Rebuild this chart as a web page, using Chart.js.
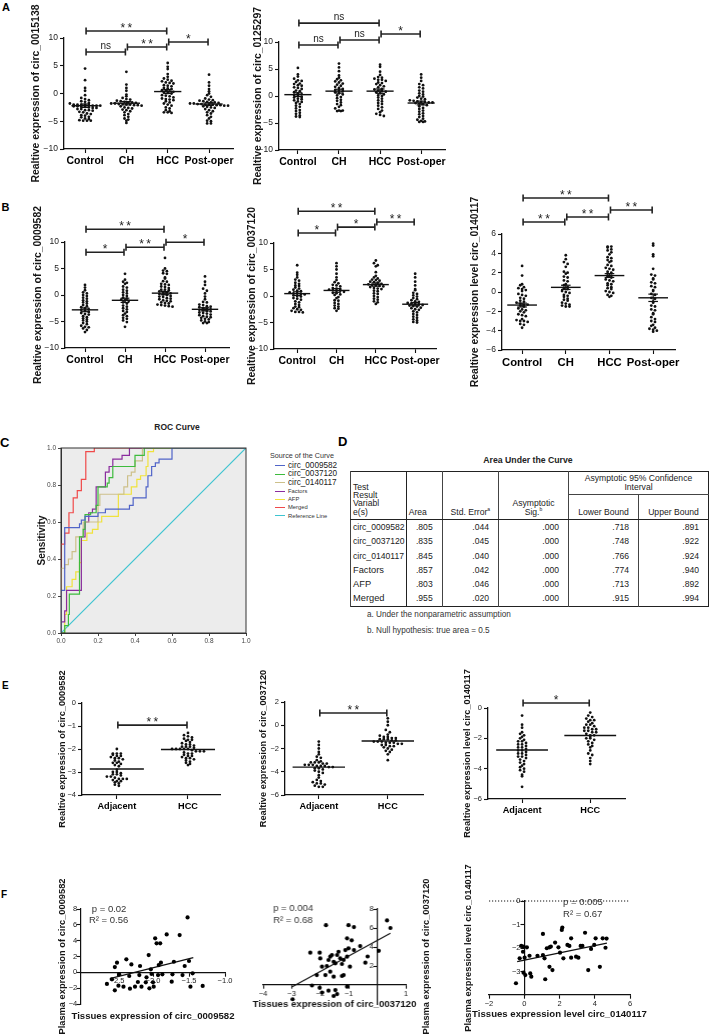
<!DOCTYPE html>
<html lang="en">
<head>
<meta charset="utf-8">
<title>circRNA expression and ROC</title>
<script src="https://cdn.jsdelivr.net/npm/chart.js@4.4.1/dist/chart.umd.min.js"></script>
<style>
    body { margin: 0; background: #fff; }
    #page { position: relative; width: 709px; height: 1034px; overflow: hidden; font-family: "Liberation Sans", Arial, sans-serif; color: #111; }
    #page canvas { position: absolute; }
    .tag { position: absolute; font-weight: bold; line-height: 1; color: #000; }
    .txt { position: absolute; line-height: 1; white-space: nowrap; }
    #legend { position: absolute; left: 270px; top: 451px; color: #333; white-space: nowrap; }
    #legend .ltitle { font-size: 7.2px; line-height: 9px; height: 11px; }
    #legend .row { font-size: 5.8px; line-height: 8.2px; padding-left: 5px; }
    #legend .row.big { font-size: 8.2px; line-height: 8.3px; color: #222; }
    #legend .row i { display: inline-block; width: 10px; height: 0; border-top: 1.2px solid; vertical-align: middle; margin-right: 3px; }
    #auc { position: absolute; left: 350px; top: 471px; width: 358px; table-layout: fixed; border-collapse: collapse; border: 1.6px solid #222; font-size: 8.6px; color: #222; }
    #auc th { font-weight: normal; border-left: 1px solid #444; vertical-align: bottom; text-align: center; line-height: 8.3px; padding: 0 2px 3px 2px; }
    #auc th.tl, #auc th.al { text-align: left; }
    #auc th.tl { border-right: 1.6px solid #222; }
    #auc .h1 th { height: 21px; border-bottom: 1.6px solid #222; }
    #auc .h1 th.mid { vertical-align: middle; padding-bottom: 1px; border-bottom: 1px solid #444; }
    #auc .h2 th { height: 21px; border-bottom: 1.6px solid #222; }
    #auc td { border-left: 1px solid #444; text-align: right; padding: 0 9px 0 2px; height: 14.3px; line-height: 14.3px; }
    #auc td.name { text-align: left; padding-left: 2px; border-right: 1.6px solid #222; }
    #auc td.name.big { font-size: 9.3px; }
    #auc sup { font-size: 5px; line-height: 0; }
</style>
</head>
<body>
<div id="page">
    <div class="tag" style="left:2px;top:1.6px;font-size:11px">A</div>
    <div class="tag" style="left:1.5px;top:201.6px;font-size:11px">B</div>
    <div class="tag" style="left:0px;top:435.6px;font-size:13px">C</div>
    <div class="tag" style="left:338px;top:434.6px;font-size:13px">D</div>
    <div class="tag" style="left:2px;top:681px;font-size:10px">E</div>
    <div class="tag" style="left:1px;top:890px;font-size:10px">F</div>

    <div class="txt" style="left:127px;width:100px;text-align:center;top:422.5px;font-size:8.5px;font-weight:bold;color:#222">ROC Curve</div>
    <div id="legend"><div class="ltitle">Source of the Curve</div></div>

    <div class="txt" style="left:428px;width:200px;text-align:center;top:456.4px;font-size:8.7px;font-weight:bold;color:#222">Area Under the Curve</div>
    <table id="auc">
        <colgroup>
            <col style="width:55.7px"><col style="width:36px"><col style="width:56.3px"><col style="width:70px"><col style="width:70px"><col style="width:70px">
        </colgroup>
        <thead>
            <tr class="h1">
                <th rowspan="2" class="tl">Test<br>Result<br>Variabl<br>e(s)</th>
                <th rowspan="2" class="al">Area</th>
                <th rowspan="2">Std. Error<sup>a</sup></th>
                <th rowspan="2">Asymptotic<br>Sig.<sup>b</sup></th>
                <th colspan="2" class="mid">Asymptotic 95% Confidence<br>Interval</th>
            </tr>
            <tr class="h2"><th>Lower Bound</th><th>Upper Bound</th></tr>
        </thead>
        <tbody></tbody>
    </table>
    <div class="txt" style="left:367px;top:610.6px;font-size:8.2px;color:#333">a. Under the nonparametric assumption</div>
    <div class="txt" style="left:367px;top:626.6px;font-size:8.2px;color:#333">b. Null hypothesis: true area = 0.5</div>
</div>

<script>
// ---- data ----
var groupNames = ['Control', 'CH', 'HCC', 'Post-oper']
var tissueNames = ['Adjacent', 'HCC']

// A: circ_0015138
var a1Control = [4.5, 2.4, 1.0, 0.5, -0.3, -0.8, -1.0, -1.2, -1.4, -1.5, -1.7, -1.8, -2.0, -2.0, -2.0, -2.0, -2.1, -2.2, -2.2, -2.2, -2.3, -2.3, -2.4, -2.4, -2.5, -2.6, -2.6, -2.8, -2.8, -3.0, -3.0, -3.1, -3.3, -3.4, -3.6, -3.7, -3.9, -4.0, -4.2, -4.3, -4.5, -4.6, -4.8, -4.9, -4.9, -4.9]
var a1CH = [3.9, 1.6, 1.0, 0.5, -0.2, -0.5, -0.8, -1.0, -1.1, -1.3, -1.4, -1.5, -1.6, -1.6, -1.7, -1.8, -1.8, -1.9, -1.9, -2.0, -2.0, -2.1, -2.1, -2.2, -2.3, -2.5, -2.6, -2.7, -2.9, -3.0, -3.2, -3.4, -3.7, -3.9, -4.2, -4.5, -4.7, -4.9, -5.3]
var a1HCC = [5.5, 4.8, 4.4, 3.5, 3.0, 2.7, 2.5, 2.3, 2.2, 2.0, 1.9, 1.8, 1.5, 1.4, 1.3, 1.0, 0.9, 0.8, 0.6, 0.5, 0.4, 0.3, 0.2, 0.1, 0.0, -0.3, -0.4, -0.5, -0.7, -0.9, -1.0, -1.1, -1.2, -1.4, -1.6, -1.8, -2.0, -2.2, -2.5, -2.7, -3.0, -3.2, -3.4, -3.4, -3.5]
var a1Post = [3.4, 2.0, 1.4, 0.8, 0.4, 0.0, -0.3, -0.6, -0.9, -1.1, -1.2, -1.3, -1.4, -1.5, -1.6, -1.6, -1.7, -1.8, -1.8, -1.9, -1.9, -2.0, -2.0, -2.0, -2.1, -2.1, -2.2, -2.2, -2.3, -2.4, -2.5, -2.6, -2.8, -3.0, -3.2, -3.4, -3.6, -3.9, -4.2, -4.5, -4.9, -5.0, -5.4, -5.4]
var a1Means = [-2.2, -1.75, 0.35, -1.9]
var a1Sems = [0.3, 0.3, 0.35, 0.25]

// A: circ_0125297
var a2Control = [5.2, 4.0, 3.6, 3.2, 2.9, 2.8, 2.6, 2.3, 2.2, 2.0, 1.9, 1.6, 1.5, 1.3, 1.0, 0.9, 0.7, 0.5, 0.3, 0.2, 0.0, -0.2, -0.3, -0.5, -0.6, -0.8, -1.0, -1.1, -1.3, -1.5, -1.8, -2.0, -2.3, -2.6, -2.8, -3.1, -3.3, -3.6, -3.8, -3.9]
var a2CH = [6.0, 5.3, 4.6, 3.8, 3.4, 3.1, 2.9, 2.7, 2.5, 2.3, 2.1, 1.9, 1.7, 1.5, 1.3, 1.1, 1.0, 0.9, 0.7, 0.5, 0.3, 0.1, -0.2, -0.4, -0.7, -0.9, -1.2, -1.5, -1.7, -2.0, -2.3, -2.7, -2.7, -2.8, -2.8]
var a2HCC = [5.8, 5.4, 4.5, 3.9, 3.5, 3.4, 3.2, 3.0, 3.0, 2.8, 2.5, 2.4, 2.2, 2.0, 1.8, 1.6, 1.3, 1.2, 1.0, 0.9, 0.8, 0.7, 0.5, 0.3, 0.1, 0.0, -0.3, -0.5, -0.8, -1.0, -1.3, -1.5, -1.8, -2.1, -2.4, -2.7, -3.0, -3.3, -3.5, -3.7]
var a2Post = [4.0, 3.4, 2.8, 2.2, 2.0, 1.6, 1.4, 1.0, 0.8, 0.5, 0.3, 0.0, -0.1, -0.3, -0.5, -0.6, -0.8, -0.9, -1.0, -1.1, -1.1, -1.2, -1.2, -1.3, -1.4, -1.5, -1.7, -1.9, -2.2, -2.4, -2.7, -2.9, -3.2, -3.4, -3.7, -3.9, -4.2, -4.4, -4.6, -4.7, -4.8, -4.8]
var a2Means = [0.25, 0.9, 0.9, -1.3]
var a2Sems = [0.35, 0.35, 0.4, 0.35]

// B: circ_0009582
var b1Control = [1.9, 1.4, 0.9, 0.5, 0.3, 0.0, -0.2, -0.5, -0.7, -1.0, -1.2, -1.4, -1.6, -1.9, -2.1, -2.3, -2.5, -2.7, -2.8, -3.0, -3.2, -3.4, -3.6, -3.7, -4.0, -4.2, -4.4, -4.6, -4.8, -5.0, -5.3, -5.5, -5.8, -6.0, -6.1, -6.3, -6.6, -7.0]
var b1CH = [4.0, 2.9, 2.5, 2.3, 2.1, 1.6, 1.4, 1.0, 0.8, 0.5, 0.3, 0.0, -0.2, -0.5, -0.7, -0.9, -1.0, -1.1, -1.4, -1.6, -2.0, -2.2, -2.5, -2.7, -3.0, -3.2, -3.5, -3.8, -4.0, -4.3, -4.5, -4.8, -5.1, -6.0]
var b1HCC = [7.0, 5.0, 4.6, 4.5, 4.1, 4.0, 3.3, 3.1, 2.6, 2.5, 2.1, 2.0, 1.9, 1.6, 1.5, 1.3, 1.0, 1.0, 0.9, 0.7, 0.6, 0.5, 0.3, 0.2, 0.1, 0.0, -0.2, -0.3, -0.4, -0.6, -0.7, -0.8, -1.0, -1.1, -1.2, -1.4, -1.5, -1.6, -1.8, -1.9, -2.0, -2.1, -2.2]
var b1Post = [3.5, 2.5, 1.9, 1.2, 0.8, 0.3, -0.3, -0.8, -1.3, -1.4, -1.8, -1.9, -2.1, -2.2, -2.3, -2.5, -2.6, -2.7, -2.8, -2.9, -3.0, -3.1, -3.3, -3.4, -3.5, -3.7, -3.8, -4.0, -4.1, -4.2, -4.3, -4.5, -4.6, -4.8, -5.0, -5.1, -5.3, -5.3]
var b1Means = [-2.8, -1.0, 0.35, -2.7]
var b1Sems = [0.35, 0.4, 0.3, 0.3]

// B: circ_0037120
var b2Control = [5.8, 4.4, 4.0, 3.5, 3.1, 2.9, 2.5, 2.3, 2.0, 1.9, 1.6, 1.4, 1.2, 1.0, 0.9, 0.7, 0.5, 0.5, 0.4, 0.3, 0.1, 0.0, -0.1, -0.4, -0.5, -0.7, -1.0, -1.2, -1.5, -1.7, -2.0, -2.1, -2.3, -2.5, -2.6, -2.8, -3.0, -3.0, -3.1]
var b2CH = [6.2, 5.6, 5.0, 4.2, 3.5, 3.0, 2.6, 2.4, 2.1, 2.0, 1.8, 1.5, 1.4, 1.3, 1.2, 1.1, 1.0, 1.0, 0.8, 0.6, 0.5, 0.3, 0.2, -0.2, -0.4, -0.8, -0.9, -1.3, -1.5, -1.8, -2.0, -2.3, -2.4, -2.8]
var b2HCC = [6.7, 6.2, 5.8, 5.6, 4.5, 3.8, 3.5, 3.3, 3.1, 3.0, 2.9, 2.7, 2.6, 2.5, 2.3, 2.2, 2.1, 2.0, 1.9, 1.8, 1.7, 1.5, 1.4, 1.3, 1.0, 0.9, 0.5, 0.4, 0.0, -0.2, -0.5, -0.7, -1.0, -1.2, -1.5]
var b2Post = [4.2, 3.5, 2.7, 2.0, 1.3, 1.1, 0.6, 0.4, 0.1, -0.1, -0.4, -0.6, -0.8, -1.0, -1.1, -1.3, -1.4, -1.5, -1.6, -1.7, -1.8, -1.9, -2.0, -2.2, -2.3, -2.5, -2.6, -2.9, -3.1, -3.4, -3.6, -3.9, -4.1, -4.4, -4.6, -4.9, -5.0]
var b2Means = [0.45, 1.05, 2.15, -1.55]
var b2Sems = [0.35, 0.35, 0.3, 0.3]

// B: circ_0140117
var b3Control = [2.7, 1.7, 0.8, 0.7, 0.5, 0.4, 0.3, 0.2, 0.1, -0.2, -0.3, -0.4, -0.6, -0.7, -0.9, -1.0, -1.1, -1.2, -1.3, -1.3, -1.4, -1.5, -1.7, -1.8, -1.9, -2.0, -2.1, -2.3, -2.4, -2.5, -2.8, -2.9, -3.0, -3.0, -3.1, -3.3, -3.4, -3.7]
var b3CH = [3.8, 3.4, 3.1, 2.9, 2.6, 2.1, 2.0, 1.9, 1.6, 1.5, 1.2, 1.1, 0.8, 0.7, 0.5, 0.4, 0.3, 0.1, 0.0, -0.1, -0.3, -0.4, -0.5, -0.7, -0.8, -0.9, -1.1, -1.2, -1.3, -1.4, -1.5, -1.5]
var b3HCC = [4.7, 4.7, 4.6, 4.4, 4.3, 4.1, 3.9, 3.6, 3.5, 3.3, 3.2, 3.1, 2.8, 2.7, 2.5, 2.4, 2.3, 2.1, 2.0, 1.9, 1.7, 1.6, 1.5, 1.3, 1.2, 1.1, 0.9, 0.8, 0.7, 0.5, 0.4, 0.3, 0.1, 0.0, -0.1, -0.3, -0.4, -0.5]
var b3Post = [5.0, 4.8, 3.9, 3.7, 2.4, 1.8, 1.7, 1.4, 1.3, 1.0, 0.9, 0.6, 0.5, 0.2, 0.1, -0.2, -0.3, -0.6, -0.7, -1.0, -1.1, -1.4, -1.5, -1.8, -1.9, -2.2, -2.3, -2.6, -2.8, -3.0, -3.1, -3.4, -3.5, -3.7, -3.8, -3.9, -4.0, -4.1]
var b3Means = [-1.35, 0.48, 1.7, -0.6]
var b3Sems = [0.2, 0.22, 0.2, 0.38]

// E: tissue levels
var e1Adjacent = [-2.0, -2.2, -2.2, -2.2, -2.25, -2.3, -2.3, -2.35, -2.4, -2.4, -2.45, -2.5, -2.55, -2.6, -2.6, -2.65, -2.7, -2.75, -2.9, -3.0, -3.0, -3.05, -3.1, -3.1, -3.15, -3.2, -3.2, -3.25, -3.3, -3.3, -3.3, -3.35, -3.4, -3.4, -3.45, -3.5, -3.55, -3.6]
var e1HCC = [-1.3, -1.4, -1.45, -1.5, -1.55, -1.6, -1.6, -1.65, -1.7, -1.75, -1.8, -1.8, -1.85, -1.9, -1.9, -1.9, -1.95, -2.0, -2.0, -2.0, -2.0, -2.0, -2.05, -2.1, -2.1, -2.1, -2.15, -2.2, -2.2, -2.25, -2.3, -2.3, -2.35, -2.4, -2.4, -2.45, -2.5, -2.55, -2.6, -2.65, -2.7]
var e1Means = [-2.87, -2.02]
var e2Adjacent = [-1.4, -1.7, -2.0, -2.3, -2.5, -2.7, -2.8, -3.0, -3.1, -3.2, -3.2, -3.2, -3.3, -3.3, -3.4, -3.4, -3.4, -3.5, -3.5, -3.5, -3.6, -3.6, -3.7, -3.7, -3.8, -3.9, -4.0, -4.1, -4.3, -4.5, -4.7, -4.8, -4.9, -5.0, -5.0, -5.1, -5.2, -5.3, -5.3]
var e2HCC = [0.6, 0.3, 0.0, -0.4, -0.6, -0.8, -0.9, -1.0, -1.0, -1.1, -1.1, -1.2, -1.2, -1.2, -1.3, -1.3, -1.4, -1.4, -1.4, -1.5, -1.5, -1.5, -1.6, -1.6, -1.7, -1.7, -1.8, -1.8, -1.9, -2.0, -2.1, -2.2, -2.3, -2.5, -3.0]
var e2Means = [-3.6, -1.35]
var e3Adjacent = [-0.5, -1.1, -1.3, -1.6, -1.7, -1.8, -1.9, -2.0, -2.1, -2.2, -2.2, -2.3, -2.4, -2.4, -2.5, -2.6, -2.6, -2.7, -2.8, -2.8, -2.9, -3.0, -3.0, -3.1, -3.2, -3.2, -3.3, -3.4, -3.5, -3.6, -3.7, -3.8, -3.9, -4.0, -4.1, -4.2, -4.4, -4.5, -5.2]
var e3HCC = [-0.3, -0.5, -0.6, -0.7, -0.8, -0.8, -0.9, -1.0, -1.1, -1.1, -1.2, -1.3, -1.3, -1.4, -1.4, -1.5, -1.5, -1.6, -1.6, -1.7, -1.8, -1.8, -1.9, -2.0, -2.0, -2.1, -2.2, -2.3, -2.4, -2.5, -2.6, -2.8, -3.0, -3.1, -3.3, -3.5, -3.7]
var e3Means = [-2.77, -1.81]

// C: ROC curves, [1 - specificity, sensitivity]
var rocNames = ['circ_0009582', 'circ_0037120', 'circ_0140117', 'Factors', 'AFP', 'Merged', 'Reference Line']
var roc0009582 = [[0, 0], [0, 0.23], [0.02, 0.57], [0.1, 0.59], [0.11, 0.61], [0.13, 0.63], [0.2, 0.65], [0.24, 0.67], [0.37, 0.69], [0.39, 0.73], [0.46, 0.79], [0.47, 0.85], [0.49, 0.9], [0.51, 0.92], [0.53, 0.94], [0.6, 1], [1, 1]]
var roc0037120 = [[0, 0], [0.02, 0.04], [0.04, 0.1], [0.045, 0.21], [0.1, 0.52], [0.12, 0.56], [0.13, 0.64], [0.16, 0.65], [0.19, 0.69], [0.2, 0.79], [0.25, 0.81], [0.26, 0.84], [0.28, 0.9], [0.4, 0.96], [0.45, 1], [1, 1]]
var roc0140117 = [[0, 0], [0, 0.35], [0.02, 0.37], [0.04, 0.4], [0.06, 0.44], [0.08, 0.52], [0.12, 0.6], [0.2, 0.69], [0.21, 0.75], [0.34, 0.79], [0.36, 0.85], [0.38, 0.87], [0.4, 0.93], [0.44, 1], [1, 1]]
var rocFactors = [[0, 0], [0, 0.06], [0.02, 0.12], [0.03, 0.23], [0.11, 0.52], [0.13, 0.6], [0.15, 0.65], [0.17, 0.67], [0.19, 0.79], [0.24, 0.87], [0.26, 0.9], [0.28, 0.94], [0.33, 0.96], [0.37, 1], [1, 1]]
var rocAfp = [[0, 0], [0.02, 0.1], [0.03, 0.25], [0.06, 0.29], [0.08, 0.33], [0.1, 0.38], [0.11, 0.5], [0.14, 0.54], [0.17, 0.56], [0.2, 0.6], [0.22, 0.63], [0.31, 0.75], [0.38, 0.79], [0.41, 0.83], [0.43, 0.85], [0.46, 0.9], [0.47, 0.98], [0.5, 1], [1, 1]]
var rocMerged = [[0, 0], [0, 0.48], [0.02, 0.54], [0.043, 0.65], [0.066, 0.73], [0.088, 0.77], [0.11, 0.83], [0.134, 0.98], [0.18, 1], [1, 1]]
var rocReference = [[0, 0], [1, 1]]

// D: area under the curve
var aucNames = ['circ_0009582', 'circ_0037120', 'circ_0140117', 'Factors', 'AFP', 'Merged']
var aucArea = ['.805', '.835', '.845', '.857', '.803', '.955']
var aucStdError = ['.044', '.045', '.040', '.042', '.046', '.020']
var aucSig = ['.000', '.000', '.000', '.000', '.000', '.000']
var aucLower = ['.718', '.748', '.766', '.774', '.713', '.915']
var aucUpper = ['.891', '.922', '.924', '.940', '.892', '.994']

// F: tissue vs plasma
var f1Tissue = [-2.64, -2.57, -2.53, -2.53, -2.50, -2.48, -2.47, -2.41, -2.37, -2.32, -2.30, -2.33, -2.25, -2.21, -2.19, -2.18, -2.16, -2.10, -2.09, -2.06, -2.05, -2.03, -2.02, -2.00, -1.99, -1.97, -1.95, -1.93, -1.92, -1.90, -1.89, -1.87, -1.81, -1.74, -1.73, -1.71, -1.63, -1.59, -1.56, -1.52, -1.50, -1.48, -1.45, -1.31]
var f1Plasma = [-1.47, -0.88, -2.27, 0.67, 1.22, -1.68, -0.25, -1.81, 1.64, -2.06, 1.0, -0.46, -1.81, -1.22, -0.34, 0.8, -1.81, -1.26, -0.63, 2.18, -2.02, 0.38, -0.21, -1.26, -1.81, 4.29, 3.66, -0.34, 0.92, 3.66, 1.22, -0.25, 4.79, -1.18, -0.25, 1.34, 4.71, -0.34, 0.8, 6.93, 1.43, -1.81, -0.13, -1.72]
var f1FitX = [-2.6, -1.44]
var f1FitY = [-0.8, 1.86]
var f1Stats = ['p = 0.02', 'R\u00b2 = 0.56']

var f2Tissue = [-2.97, -2.35, -2.02, -1.80, -2.00, -2.12, -1.82, -2.29, -2.02, -1.94, -1.94, -1.77, -1.71, -1.65, -1.59, -1.53, -1.47, -1.41, -1.36, -1.30, -1.24, -1.18, -1.12, -1.06, -1.01, -1.65, -1.53, -1.24, -1.18, -1.06, -1.47, -1.41, -1.53, -1.71, -1.06, -1.01, -0.90, -0.82, -0.82, -0.96, -0.42, -0.34, 0.05, 0.34, 0.46, -0.60]
var f2Plasma = [-1.50, 3.40, 3.40, 6.30, 2.80, 1.05, 1.05, -0.05, -0.30, -0.80, 1.93, 2.00, 2.63, 2.98, 3.16, 2.45, 2.28, 3.16, 3.50, 2.81, 2.21, 2.63, 3.68, 2.98, 3.86, 1.40, 0.88, 0.95, 1.05, -0.18, -0.53, -0.95, -1.16, -0.60, 4.91, 6.30, 4.70, 6.10, 3.68, 1.93, 2.35, 3.00, 3.60, 6.80, 6.00, 4.10]
var f2FitX = [-2.98, 0.46]
var f2FitY = [-0.18, 5.44]
var f2Stats = ['p = 0.004', 'R\u00b2 = 0.68']

var f3Tissue = [-0.47, -0.26, -0.17, -0.04, 0.15, -0.07, 0.02, -0.04, 0.06, 0.30, 0.34, 0.40, 0.75, 1.06, 1.06, 1.15, 1.19, 1.28, 1.43, 1.51, 1.43, 1.60, 1.75, 1.94, 2.03, 2.13, 2.16, 2.22, 2.45, 2.56, 2.66, 2.66, 2.94, 3.07, 3.20, 3.30, 3.45, 3.63, 3.79, 3.97, 4.05, 4.29, 4.45, 4.61, 4.67]
var f3Plasma = [-3.50, -2.44, -1.91, -1.94, -1.97, -2.16, -2.41, -3.05, -3.15, -2.33, -3.08, -3.22, -2.33, -1.40, -2.30, -2.44, -3.33, -2.01, -1.97, -1.94, -2.80, -2.94, -1.77, -1.97, -2.20, -1.23, -1.13, -2.44, -1.87, -1.91, -2.41, -1.59, -2.37, -2.41, -1.91, -1.91, -1.35, -2.94, -2.04, -1.87, -1.59, -2.80, -1.59, -1.99, -1.60]
var f3FitX = [-0.4, 4.69]
var f3FitY = [-2.58, -1.79]
var f3Stats = ['p = 0.005', 'R\u00b2 = 0.67']

// ---- drawing ----
var FONT = '"Liberation Sans", Arial, sans-serif'
Chart.defaults.font.family = FONT
Chart.defaults.color = '#111'

var page = document.getElementById('page')

function makeCanvas(x, y, w, h) {
    var cv = document.createElement('canvas')
    cv.width = w
    cv.height = h
    cv.style.left = x + 'px'
    cv.style.top = y + 'px'
    cv.style.width = w + 'px'
    cv.style.height = h + 'px'
    page.appendChild(cv)
    return cv
}

function minusLabel(v, digits) {
    var s = digits ? Math.abs(v).toFixed(digits) : String(Math.abs(v))
    return v < 0 ? '\u2212' + s : s
}

function seg(ctx, x1, y1, x2, y2) {
    ctx.beginPath()
    ctx.moveTo(x1, y1)
    ctx.lineTo(x2, y2)
    ctx.stroke()
}

function axisGrid(len) {
    return { drawOnChartArea: false, color: '#111', tickLength: len, tickWidth: 1.1 }
}

// means, error bars, significance brackets, notes and axis titles
function makeDecor(cfg) {
    return {
        id: 'decor',
        beforeDraw: function (chart) {
            if (!cfg.background) return
            var a = chart.chartArea
            chart.ctx.save()
            chart.ctx.fillStyle = cfg.background
            chart.ctx.fillRect(a.left, a.top, a.right - a.left, a.bottom - a.top)
            chart.ctx.restore()
        },
        afterDatasetsDraw: function (chart) {
            var ctx = chart.ctx
            var a = chart.chartArea
            var xs = chart.scales.x
            var ys = chart.scales.y
            ctx.save()
            ctx.strokeStyle = '#111'
            ctx.fillStyle = '#111'

            if (cfg.frame) {
                ctx.lineWidth = 1
                ctx.strokeStyle = '#333'
                ctx.strokeRect(a.left, a.top, a.right - a.left, a.bottom - a.top)
                ctx.strokeStyle = '#111'
            }

            var dotted = cfg.dotted || []
            dotted.forEach(function (v) {
                var y = ys.getPixelForValue(v)
                ctx.lineWidth = 1
                ctx.setLineDash([1.2, 1.8])
                seg(ctx, a.left, y, a.right, y)
                ctx.setLineDash([])
            })

            var means = cfg.means || []
            means.forEach(function (m, i) {
                var c = i + 1
                var y = ys.getPixelForValue(m)
                ctx.lineWidth = 1.4
                seg(ctx, xs.getPixelForValue(c - cfg.meanHalf), y, xs.getPixelForValue(c + cfg.meanHalf), y)
                if (cfg.sems) {
                    var top = ys.getPixelForValue(m + cfg.sems[i])
                    var bot = ys.getPixelForValue(m - cfg.sems[i])
                    var xl = xs.getPixelForValue(c - 0.11)
                    var xr = xs.getPixelForValue(c + 0.11)
                    var xc = xs.getPixelForValue(c)
                    ctx.lineWidth = 1.2
                    seg(ctx, xc, top, xc, bot)
                    seg(ctx, xl, top, xr, top)
                    seg(ctx, xl, bot, xr, bot)
                }
            })

            var brackets = cfg.brackets || []
            brackets.forEach(function (b) {
                var x1 = xs.getPixelForValue(b[0]) + 1
                var x2 = xs.getPixelForValue(b[1]) - 1
                var y = ys.getPixelForValue(b[2])
                ctx.strokeStyle = '#222'
                ctx.lineWidth = 1.6
                seg(ctx, x1, y, x2, y)
                seg(ctx, x1, y - 3.5, x1, y + 3.5)
                seg(ctx, x2, y - 3.5, x2, y + 3.5)
                ctx.fillStyle = '#222'
                ctx.textAlign = 'center'
                ctx.textBaseline = 'alphabetic'
                if (b[3].charAt(0) === '*') {
                    ctx.font = '12px ' + FONT
                    var txt = b[3].split('').join('\u2009')
                    ctx.fillText(txt, (x1 + x2) / 2, y + 1)
                } else {
                    ctx.font = '10px ' + FONT
                    ctx.fillText(b[3], (x1 + x2) / 2, y - 3)
                }
            })

            var notes = cfg.notes || []
            notes.forEach(function (n) {
                ctx.font = '9.5px ' + FONT
                ctx.fillStyle = '#333'
                ctx.textAlign = 'left'
                ctx.textBaseline = 'middle'
                ctx.fillText(n[0], xs.getPixelForValue(n[1]), ys.getPixelForValue(n[2]))
            })

            if (cfg.yTitle) {
                ctx.save()
                ctx.font = cfg.yTitle.font
                ctx.fillStyle = '#151515'
                ctx.translate(a.left + cfg.yTitle.dx, (a.top + a.bottom) / 2)
                ctx.rotate(-Math.PI / 2)
                ctx.textAlign = 'center'
                ctx.textBaseline = 'middle'
                ctx.fillText(cfg.yTitle.text, 0, 0)
                ctx.restore()
            }
            if (cfg.xTitle) {
                ctx.font = cfg.xTitle.font
                ctx.fillStyle = '#151515'
                ctx.textAlign = 'center'
                ctx.textBaseline = 'middle'
                ctx.fillText(cfg.xTitle.text, (a.left + a.right) / 2, a.bottom + cfg.xTitle.dy)
            }
            ctx.restore()
        }
    }
}

// scatter dot plot layout: values sharing a row are spread sideways
function swarm(values, center, bin, step) {
    var rows = {}
    values.forEach(function (v) {
        var k = Math.round(v / bin)
        if (!rows[k]) rows[k] = []
        rows[k].push(v)
    })
    var pts = []
    Object.keys(rows).forEach(function (k) {
        var row = rows[k]
        row.forEach(function (v, i) {
            pts.push({ x: center + (i - (row.length - 1) / 2) * step, y: v })
        })
    })
    return pts
}

function dotPlot(o) {
    var padL = 45, padT = 55, padR = 15, padB = 50
    var l = o.box[0], t = o.box[1], r = o.box[2], b = o.box[3]
    var cv = makeCanvas(l - padL, t - padT, r - l + padL + padR, b - t + padT + padB)
    var points = []
    o.series.forEach(function (vals, i) {
        points = points.concat(swarm(vals, i + 1, o.bin, o.step))
    })
    return new Chart(cv, {
        type: 'scatter',
        data: { datasets: [{ data: points, pointRadius: 1.4, pointBackgroundColor: '#111', pointBorderWidth: 0 }] },
        options: {
            responsive: false, animation: false, events: [],
            layout: { padding: { left: 0, top: padT, right: padR, bottom: 0 } },
            plugins: { legend: { display: false }, tooltip: { enabled: false } },
            scales: {
                x: {
                    type: 'linear', min: o.x[0], max: o.x[1],
                    afterFit: function (s) { s.height = padB },
                    afterBuildTicks: function (s) {
                        s.ticks = o.groups.map(function (g, i) { return { value: i + 1 } })
                    },
                    ticks: {
                        autoSkip: false, maxRotation: 0, padding: 2, color: '#000',
                        font: { size: o.labelSize, weight: 'bold' },
                        callback: function (v) { return o.groups[v - 1] }
                    },
                    grid: axisGrid(4), border: { color: '#111', width: 1.3 }
                },
                y: {
                    min: o.y[0], max: o.y[1],
                    afterFit: function (s) { s.width = padL },
                    ticks: { stepSize: o.y[2], padding: 2, color: '#1a1a1a', font: { size: o.tickSize }, callback: function (v) { return minusLabel(v) } },
                    grid: axisGrid(4), border: { color: '#111', width: 1.3 }
                }
            }
        },
        plugins: [makeDecor({
            means: o.means, sems: o.sems, meanHalf: o.meanHalf, brackets: o.brackets,
            yTitle: { text: o.title, dx: o.titleDx, font: 'bold ' + o.titleSize + 'px ' + FONT }
        })]
    })
}

function scatterFit(o) {
    var pad = 45
    var l = o.box[0], t = o.box[1], r = o.box[2], b = o.box[3]
    var cv = makeCanvas(l - pad, t - pad, r - l + 2 * pad, b - t + 2 * pad)
    var pts = o.tissue.map(function (v, i) { return { x: v, y: o.plasma[i] } })
    var fit = o.fitX.map(function (v, i) { return { x: v, y: o.fitY[i] } })
    return new Chart(cv, {
        type: 'scatter',
        data: {
            datasets: [
                { data: pts, pointRadius: 2.1, pointBackgroundColor: '#000', pointBorderWidth: 0 },
                { data: fit, showLine: true, pointRadius: 0, borderColor: '#111', borderWidth: 1.2 }
            ]
        },
        options: {
            responsive: false, animation: false, events: [],
            layout: { padding: pad },
            plugins: { legend: { display: false }, tooltip: { enabled: false } },
            scales: {
                x: {
                    type: 'linear', position: { y: o.xAt }, min: o.x[0], max: o.x[1],
                    afterBuildTicks: function (s) { s.ticks = o.xTicks.map(function (v) { return { value: v } }) },
                    ticks: { autoSkip: false, maxRotation: 0, padding: 1, color: '#222', font: { size: 7.5 }, callback: function (v) { return minusLabel(v, o.xDigits) } },
                    grid: axisGrid(3.5), border: { color: '#111', width: 1.2 }
                },
                y: {
                    type: 'linear', position: { x: o.yAt }, min: o.y[0], max: o.y[1],
                    afterBuildTicks: function (s) { s.ticks = o.yTicks.map(function (v) { return { value: v } }) },
                    ticks: { autoSkip: false, padding: 2, color: '#222', font: { size: 7.5 }, callback: function (v) { return minusLabel(v) + '\u2002' } },
                    grid: axisGrid(3.5), border: { color: '#111', width: 1.2 }
                }
            }
        },
        plugins: [makeDecor({
            dotted: o.dotted,
            notes: [[o.stats[0], o.notePos[0], o.notePos[1]], [o.stats[1], o.notePos[2], o.notePos[3]]],
            yTitle: { text: o.yTitle, dx: o.yTitleDx, font: 'bold 9.3px ' + FONT },
            xTitle: { text: o.xTitle, dy: o.xTitleDy, font: 'bold 9.6px ' + FONT }
        })]
    })
}

// A
dotPlot({
    box: [64, 38, 233, 149], x: [0.49, 4.58], y: [-10, 10, 5], groups: groupNames,
    series: [a1Control, a1CH, a1HCC, a1Post], means: a1Means, sems: a1Sems,
    brackets: [[1, 3, 11.26, '**'], [1, 2, 7.48, 'ns'], [2, 3, 8.38, '**'], [3, 4, 9.28, '*']],
    title: 'Realtive expression of circ_0015138', titleDx: -28, titleSize: 10.4,
    labelSize: 10.5, tickSize: 8.5, bin: 0.5, step: 0.092, meanHalf: 0.33
})
dotPlot({
    box: [279, 42, 445, 150], x: [0.54, 4.58], y: [-10, 10, 5], groups: groupNames,
    series: [a2Control, a2CH, a2HCC, a2Post], means: a2Means, sems: a2Sems,
    brackets: [[1, 3, 13.5, 'ns'], [1, 2, 9.44, 'ns'], [2, 3, 10.37, 'ns'], [3, 4, 11.48, '*']],
    title: 'Realtive expression of circ_0125297', titleDx: -21, titleSize: 10.4,
    labelSize: 10.5, tickSize: 8.5, bin: 0.5, step: 0.092, meanHalf: 0.33
})

// B
dotPlot({
    box: [65, 242, 229, 348], x: [0.5, 4.6], y: [-10, 10, 5], groups: groupNames,
    series: [b1Control, b1CH, b1HCC, b1Post], means: b1Means, sems: b1Sems,
    brackets: [[1, 3, 12.4, '**'], [1, 2, 8.06, '*'], [2, 3, 9.0, '**'], [3, 4, 9.94, '*']],
    title: 'Realtive expression of circ_0009582', titleDx: -27, titleSize: 10.4,
    labelSize: 10.5, tickSize: 8.5, bin: 0.5, step: 0.094, meanHalf: 0.33
})
dotPlot({
    box: [274, 243, 436, 349], x: [0.41, 4.53], y: [-10, 10, 5], groups: groupNames,
    series: [b2Control, b2CH, b2HCC, b2Post], means: b2Means, sems: b2Sems,
    brackets: [[1, 3, 16.0, '**'], [1, 2, 11.9, '*'], [2, 3, 13.0, '*'], [3, 4, 13.96, '**']],
    title: 'Realtive expression of circ_0037120', titleDx: -22, titleSize: 10.4,
    labelSize: 10.5, tickSize: 8.5, bin: 0.5, step: 0.095, meanHalf: 0.33
})
dotPlot({
    box: [502, 234, 675, 350], x: [0.54, 4.5], y: [-6, 6, 2], groups: groupNames,
    series: [b3Control, b3CH, b3HCC, b3Post], means: b3Means, sems: b3Sems,
    brackets: [[1, 3, 9.72, '**'], [1, 2, 7.24, '**'], [2, 3, 7.76, '**'], [3, 4, 8.48, '**']],
    title: 'Realtive expression level circ_0140117', titleDx: -27, titleSize: 10.4,
    labelSize: 11.3, tickSize: 8.5, bin: 0.3, step: 0.085, meanHalf: 0.34
})

// E
dotPlot({
    box: [82, 703, 220, 795], x: [0.51, 2.45], y: [-4, 0, 1], groups: tissueNames,
    series: [e1Adjacent, e1HCC], means: e1Means,
    brackets: [[1, 2, -0.96, '**']],
    title: 'Realtive expression of circ_0009582', titleDx: -20, titleSize: 9.2,
    labelSize: 9.2, tickSize: 7.5, bin: 0.12, step: 0.056, meanHalf: 0.38
})
dotPlot({
    box: [285, 702, 423, 795], x: [0.51, 2.51], y: [-6, 2, 2], groups: tissueNames,
    series: [e2Adjacent, e2HCC], means: e2Means,
    brackets: [[1, 2, 1.05, '**']],
    title: 'Realtive expression of circ_0037120', titleDx: -22, titleSize: 9.2,
    labelSize: 9.2, tickSize: 7.5, bin: 0.25, step: 0.058, meanHalf: 0.38
})
dotPlot({
    box: [488, 708, 625, 799], x: [0.5, 2.51], y: [-6, 0, 2], groups: tissueNames,
    series: [e3Adjacent, e3HCC], means: e3Means,
    brackets: [[1, 2, 0.33, '*']],
    title: 'Realtive expression level circ_0140117', titleDx: -21, titleSize: 9.2,
    labelSize: 9.2, tickSize: 7.5, bin: 0.19, step: 0.058, meanHalf: 0.38
})

// C: ROC curve
var rocSeries = [roc0009582, roc0037120, roc0140117, rocFactors, rocAfp, rocMerged, rocReference]
var rocColors = ['#5064c8', '#3dbb3d', '#cdc08a', '#8a2c9e', '#f0e23c', '#f04a4a', '#3ec4d0']

var rocCanvas = makeCanvas(0, 420, 262, 240)
new Chart(rocCanvas, {
    type: 'line',
    data: {
        datasets: rocSeries.map(function (s, i) {
            return {
                label: rocNames[i],
                data: s.map(function (p) { return { x: p[0], y: p[1] } }),
                borderColor: rocColors[i], borderWidth: 1.2, pointRadius: 0, fill: false,
                stepped: i < 6 ? 'before' : false
            }
        })
    },
    options: {
        responsive: false, animation: false, events: [],
        layout: { padding: { left: 0, top: 28, right: 16, bottom: 0 } },
        plugins: { legend: { display: false }, tooltip: { enabled: false } },
        scales: {
            x: {
                type: 'linear', min: 0, max: 1,
                afterFit: function (s) { s.height = 27 },
                ticks: { stepSize: 0.2, padding: 1, color: '#444', font: { size: 6.5 }, callback: function (v) { return v.toFixed(1) } },
                grid: { drawOnChartArea: false, color: '#444', tickLength: 3 }, border: { color: '#333', width: 1 }
            },
            y: {
                min: 0, max: 1,
                afterFit: function (s) { s.width = 61 },
                ticks: { stepSize: 0.2, padding: 2, color: '#444', font: { size: 6.5 }, callback: function (v) { return v.toFixed(1) } },
                grid: { drawOnChartArea: false, color: '#444', tickLength: 3 }, border: { color: '#333', width: 1 }
            }
        }
    },
    plugins: [makeDecor({
        background: '#ececec', frame: true,
        yTitle: { text: 'Sensitivity', dx: -19, font: 'bold 10px ' + FONT }
    })]
})

var legend = document.getElementById('legend')
rocNames.forEach(function (name, i) {
    var row = document.createElement('div')
    row.className = 'row' + (i < 3 ? ' big' : '')
    row.innerHTML = '<i style="border-color:' + rocColors[i] + '"></i>' + name
    legend.appendChild(row)
})

// D: table rows
var tbody = document.querySelector('#auc tbody')
aucNames.forEach(function (name, i) {
    var tr = document.createElement('tr')
    tr.innerHTML = '<td class="name' + (name.indexOf('circ') === 0 ? '' : ' big') + '">' + name + '</td>' +
        '<td>' + aucArea[i] + '</td><td>' + aucStdError[i] + '</td><td>' + aucSig[i] + '</td>' +
        '<td>' + aucLower[i] + '</td><td>' + aucUpper[i] + '</td>'
    tbody.appendChild(tr)
})

// F
scatterFit({
    box: [81, 909, 225, 1004], x: [-3, -1], y: [-4, 8], xAt: 0, yAt: -3,
    xTicks: [-2.5, -2, -1.5, -1], yTicks: [-4, -2, 0, 2, 4, 6, 8], xDigits: 1,
    tissue: f1Tissue, plasma: f1Plasma, fitX: f1FitX, fitY: f1FitY,
    stats: f1Stats, notePos: [-2.85, 8.0, -2.89, 6.6],
    xTitle: 'Tissues expression of circ_0009582', xTitleDy: 12,
    yTitle: 'Plasma expression of circ_0009582', yTitleDx: -19
})
scatterFit({
    box: [263, 909, 405.5, 1004], x: [-4, 1], y: [-2, 8], xAt: 0, yAt: 0,
    xTicks: [-4, -3, -2, -1, 1], yTicks: [2, 4, 6, 8], xDigits: 0,
    tissue: f2Tissue, plasma: f2Plasma, fitX: f2FitX, fitY: f2FitY,
    stats: f2Stats, notePos: [-3.65, 8.1, -3.65, 6.84],
    xTitle: 'Tissues expression of circ_0037120', xTitleDy: 0,
    yTitle: 'Plasma expression of circ_0037120', yTitleDx: 162
})
scatterFit({
    box: [489, 901, 630, 995], x: [-2, 6], y: [-4, 0], xAt: -4, yAt: 0,
    xTicks: [-2, 0, 2, 4, 6], yTicks: [-3, -2, -1, 0], xDigits: 0, dotted: [0],
    tissue: f3Tissue, plasma: f3Plasma, fitX: f3FitX, fitY: f3FitY,
    stats: f3Stats, notePos: [2.2, -0.04, 2.2, -0.55],
    xTitle: 'Tissues expression level circ_0140117', xTitleDy: 19,
    yTitle: 'Plasma expression level circ_0140117', yTitleDx: -21
})
</script>
</body>
</html>
